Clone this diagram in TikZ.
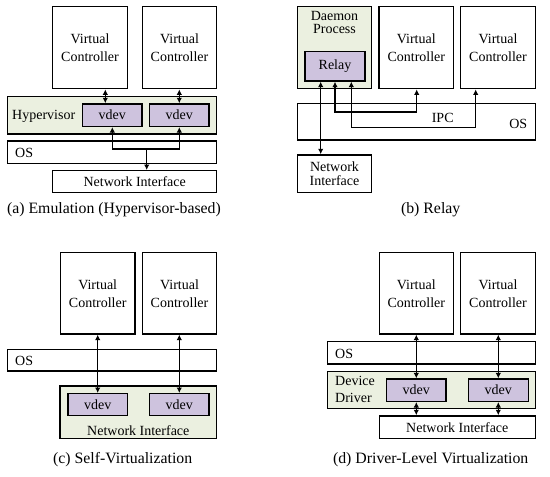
\documentclass[tikz,border=0pt]{standalone}
\usepackage{fontspec}
\setmainfont{Liberation Serif}
\usetikzlibrary{arrows.meta}
\definecolor{grn}{RGB}{235,240,224}
\definecolor{prp}{RGB}{206,195,222}
\tikzset{
  box/.style={draw, line width=1.4pt, inner sep=0pt, align=center, font=\fontsize{14}{18}\selectfont},
  vc/.style={box, minimum width=74.5pt, minimum height=82pt},
  vdev/.style={box, fill=prp, minimum width=59.5pt, minimum height=22.5pt},
  lbl/.style={inner sep=0pt, font=\fontsize{14}{18}\selectfont},
  captxt/.style={inner sep=0pt, font=\fontsize{15.8}{18}\selectfont},
  conn/.style={line width=1.3pt, >={Latex[length=5.5pt,width=5.5pt]}}
}
\begin{document}
\begin{tikzpicture}[x=1pt,y=-1pt]
\useasboundingbox (0,0) rectangle (550,477);
% ---------- (a)
\node[vc] (a1) at (90,47.7) {Virtual\\Controller};
\node[vc] (a2) at (179.5,47.7) {Virtual\\Controller};
\node[box, fill=grn, minimum width=209.4pt, minimum height=37.3pt] (ahyp) at (112,115.3) {};
\node[lbl, anchor=west] (ahypt) at (12,116) {Hypervisor};
\node[vdev] (av1) at (112.3,115.2) {vdev};
\node[vdev] (av2) at (179.3,115.2) {vdev};
\node[box, minimum width=209.4pt, minimum height=22.3pt] (aos) at (112,152.2) {};
\node[lbl, anchor=west] (aost) at (15,153) {OS};
\node[box, minimum width=164pt, minimum height=21.6pt] (ani) at (134.7,181.5) {Network Interface};
\node[captxt] (acap) at (114,210) {(a) Emulation (Hypervisor-based)};
\draw[conn,<->] (105.3,0 |- a1.south) -- (105.3,0 |- av1.north);
\draw[conn,<->] (179.3,0 |- a2.south) -- (179.3,0 |- av2.north);
\coordinate (aj) at (146.7,149);
\draw[conn,<->] (av1.south) |- (aj) -| (av2.south);
\draw[conn,->] (aj) -- (aj |- ani.north);
% ---------- (b)
\node[box, fill=grn, minimum width=74.4pt, minimum height=82pt] (bd) at (334.5,47.7) {};
\node[lbl, align=center, font=\fontsize{14}{12.6}\selectfont] (bdt) at (334.5,22.5) {Daemon\\Process};
\node[vdev, minimum width=60pt, minimum height=29.3pt] (brel) at (335,66.3) {Relay};
\node[vc] (b1) at (416.3,47.7) {Virtual\\Controller};
\node[vc] (b2) at (498,47.7) {Virtual\\Controller};
\node[box, minimum width=238pt, minimum height=36.7pt] (bos) at (416.3,121.7) {};
\node[lbl] (bipc) at (442.7,117.5) {IPC};
\node[lbl] (bost) at (518.3,123.5) {OS};
\node[box, minimum width=74.4pt, minimum height=37.7pt, font=\fontsize{14}{13.3}\selectfont] (bni) at (334.5,173.8) {Network\\Interface};
\node[captxt] (bcap) at (430.7,209.3) {(b) Relay};
\draw[conn,<->] (320.7,0 |- brel.south) -- (320.7,0 |- bni.north);
\coordinate (bj1) at (335,112);
\coordinate (bj2) at (351.3,127.3);
\draw[conn,<->] (bj1 |- brel.south) |- (416.7,112) -- (416.7,0 |- b1.south);
\draw[conn,<->] (bj2 |- brel.south) |- (475.7,127.3) -- (475.7,0 |- b2.south);
% ---------- (c)
\node[vc, minimum height=81.3pt] (c1) at (97.7,293.3) {Virtual\\Controller};
\node[vc, minimum height=81.3pt] (c2) at (179.5,293.3) {Virtual\\Controller};
\node[box, minimum width=209.4pt, minimum height=21.7pt] (cos) at (112,360.2) {};
\node[lbl, anchor=west] (cost) at (15,361) {OS};
\node[box, fill=grn, minimum width=156.7pt, minimum height=52.7pt] (cni) at (138.3,412.3) {};
\node[lbl] (cnit) at (138.3,430.7) {Network Interface};
\node[vdev, minimum height=22pt] (cv1) at (97.7,404.7) {vdev};
\node[vdev, minimum height=22pt] (cv2) at (179.3,404.7) {vdev};
\node[captxt] (ccap) at (122.7,460) {(c) Self-Virtualization};
\draw[conn,<->] (c1.south) -- (cv1.north);
\draw[conn,<->] (179.3,0 |- c2.south) -- (cv2.north);
% ---------- (d)
\node[vc, minimum height=81.3pt, minimum width=74pt] (d1) at (416.3,293.3) {Virtual\\Controller};
\node[vc, minimum height=81.3pt] (d2) at (498,293.3) {Virtual\\Controller};
\node[box, minimum width=208pt, minimum height=22.3pt] (dos) at (431.3,352.8) {};
\node[lbl, anchor=west] (dost) at (335,353.5) {OS};
\node[box, fill=grn, minimum width=208pt, minimum height=37.4pt] (ddd) at (431.3,390) {};
\node[lbl, anchor=west, align=left, font=\fontsize{14}{16.7}\selectfont] (dddt) at (335,389.5) {Device\\Driver};
\node[vdev, minimum height=22.3pt] (dv1) at (416.3,390.2) {vdev};
\node[vdev, minimum width=60pt, minimum height=22.3pt] (dv2) at (498.3,390.2) {vdev};
\node[box, minimum width=156pt, minimum height=22.7pt] (dni) at (457.3,427.3) {Network Interface};
\node[captxt] (dcap) at (430.7,460) {(d) Driver-Level Virtualization};
\draw[conn,<->] (d1.south) -- (dv1.north);
\draw[conn,<->] (498.3,0 |- d2.south) -- (dv2.north);
\draw[conn,<->] (dv1.south) -- (dv1.south |- dni.north);
\draw[conn,<->] (dv2.south) -- (dv2.south |- dni.north);
\end{tikzpicture}
\end{document}
